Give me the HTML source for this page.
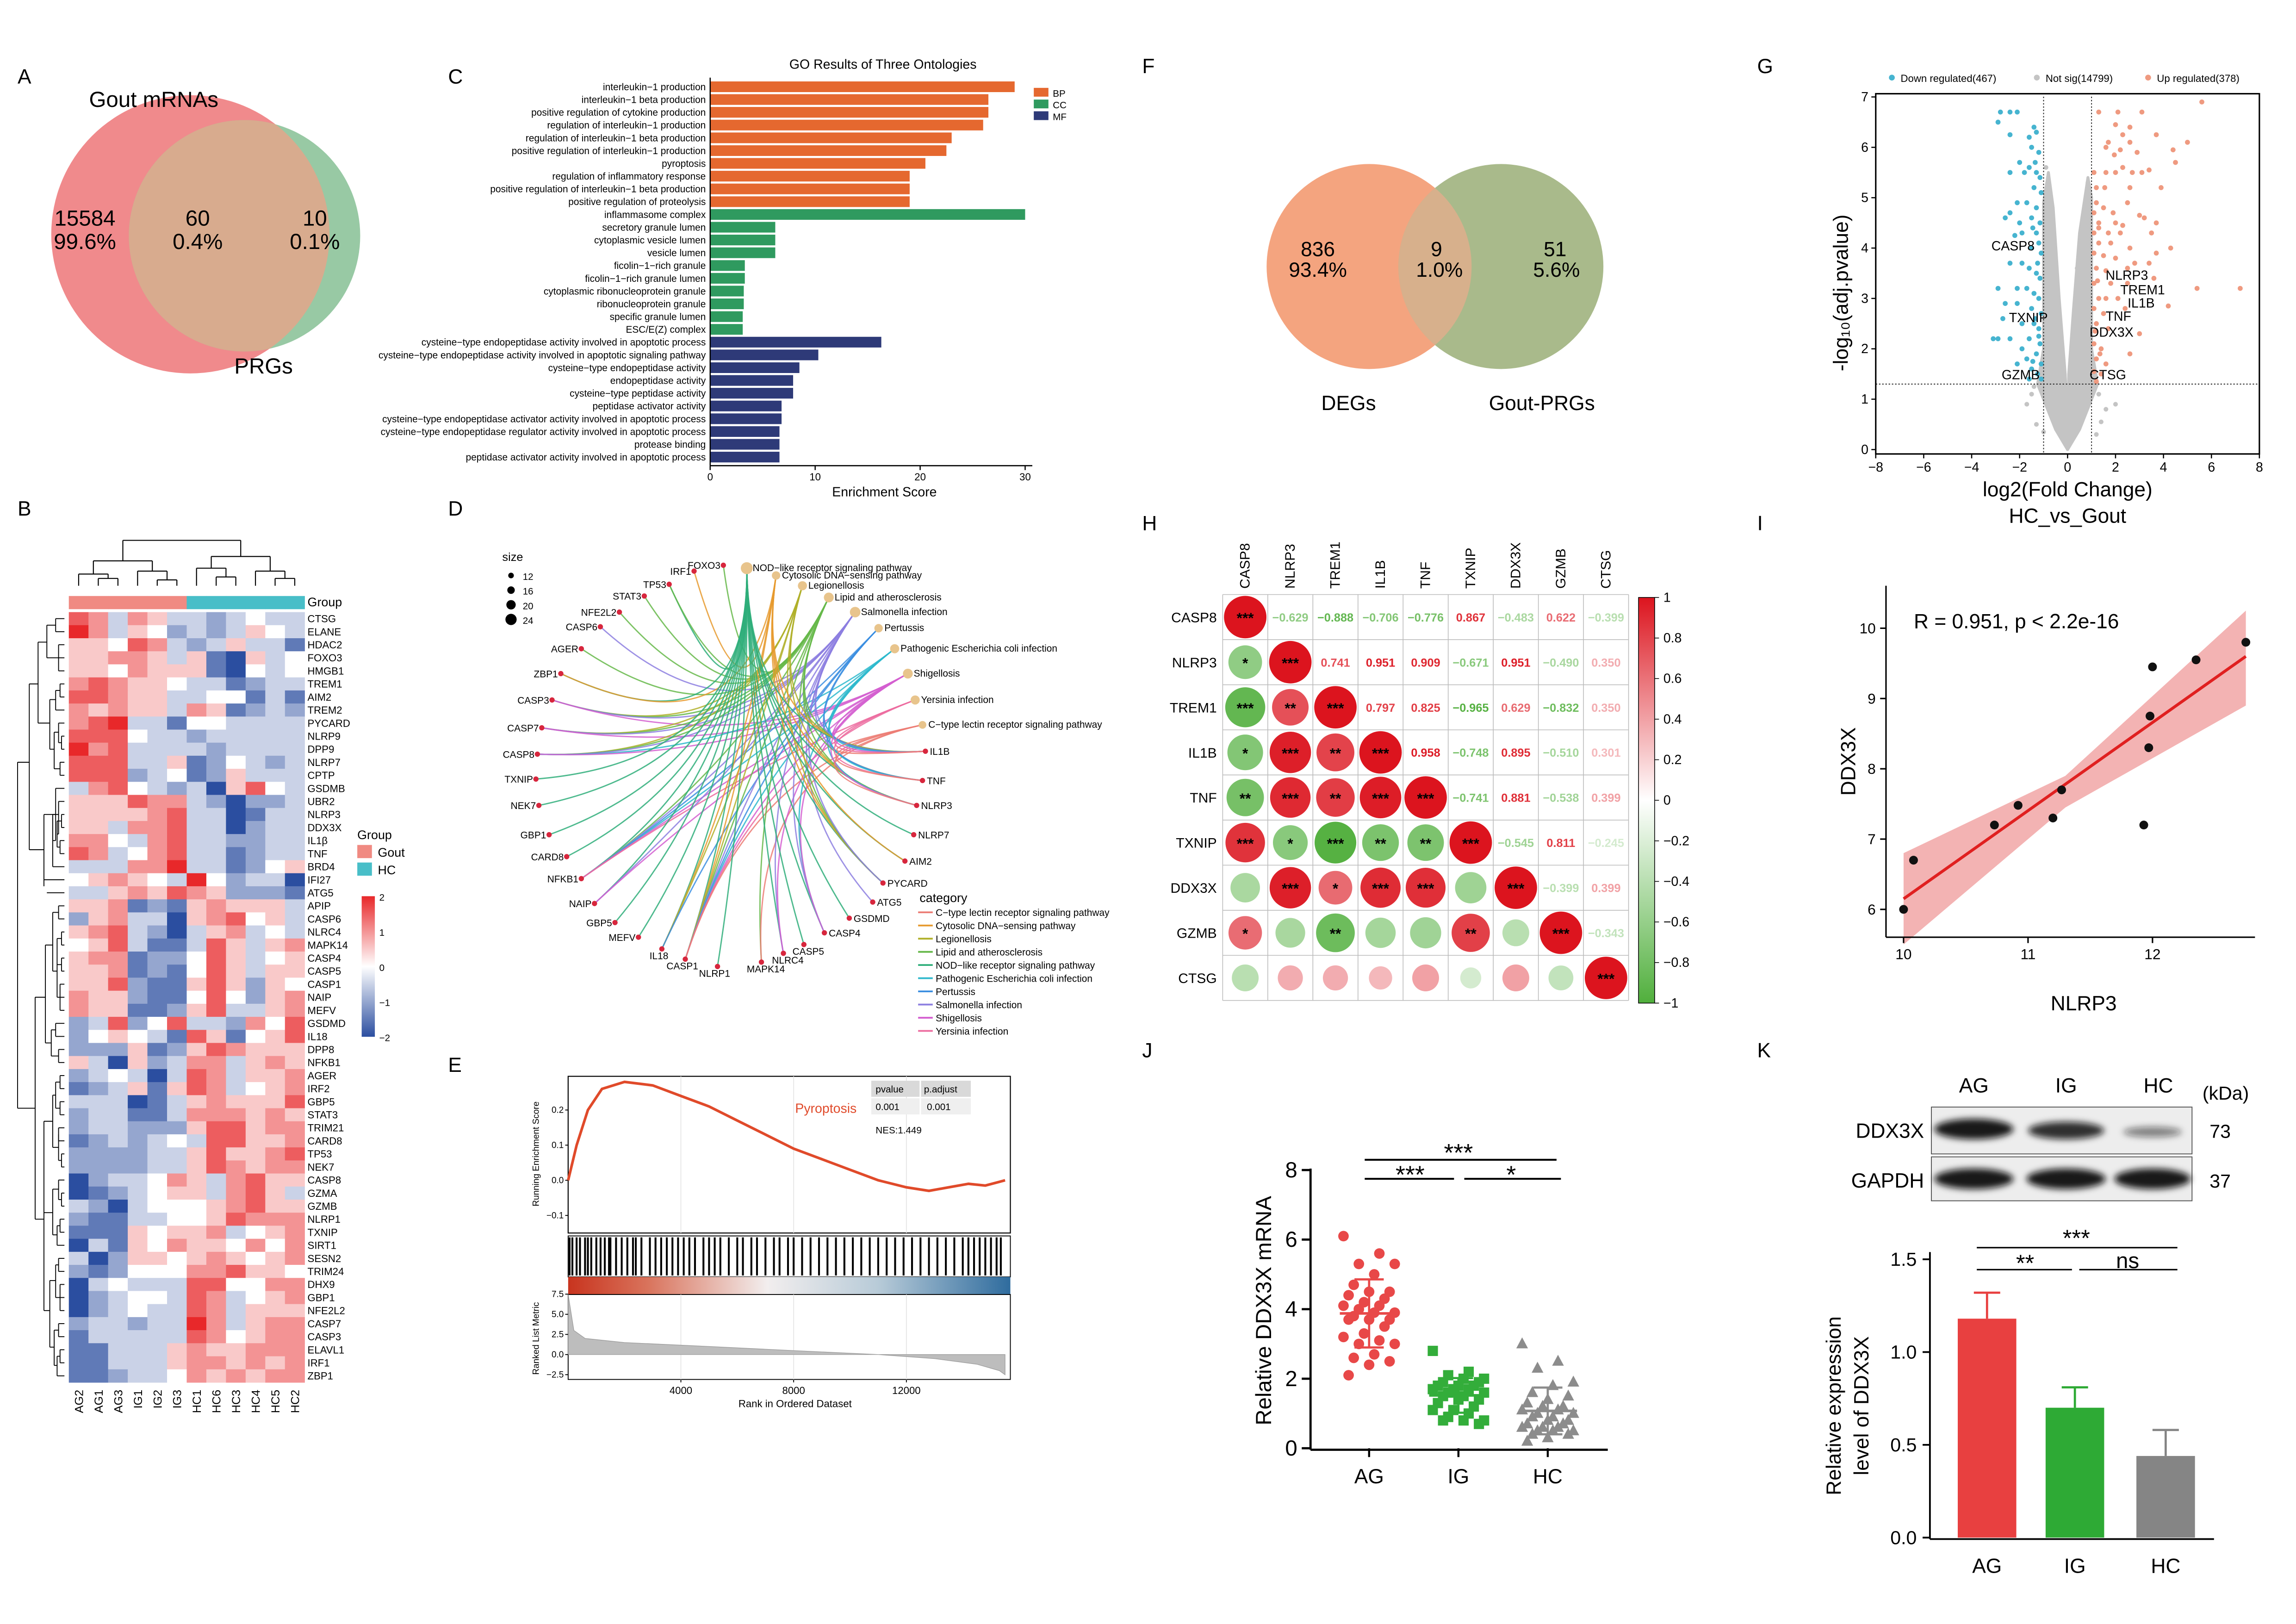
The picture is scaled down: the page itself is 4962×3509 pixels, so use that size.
<!DOCTYPE html>
<html><head><meta charset="utf-8">
<style>
html,body{margin:0;padding:0;background:#fff;}
svg{display:block;font-family:"Liberation Sans",Arial,sans-serif;}
</style></head>
<body>
<svg id="fig" xmlns="http://www.w3.org/2000/svg" width="4962" height="3509" viewBox="0 0 1568 1109" preserveAspectRatio="none"></svg>
<script>
// ===== DATA =====
const hmGenes=["CTSG","ELANE","HDAC2","FOXO3","HMGB1","TREM1","AIM2","TREM2","PYCARD","NLRP9","DPP9","NLRP7","CPTP","GSDMB","UBR2","NLRP3","DDX3X","IL1β","TNF","BRD4","IFI27","ATG5","APIP","CASP6","NLRC4","MAPK14","CASP4","CASP5","CASP1","NAIP","MEFV","GSDMD","IL18","DPP8","NFKB1","AGER","IRF2","GBP5","STAT3","TRIM21","CARD8","TP53","NEK7","CASP8","GZMA","GZMB","NLRP1","TXNIP","SIRT1","SESN2","TRIM24","DHX9","GBP1","NFE2L2","CASP7","CASP3","ELAVL1","IRF1","ZBP1"];
const hmSamples=["AG2","AG1","AG3","IG1","IG2","IG3","HC1","HC6","HC3","HC4","HC5","HC2"];
const hmGroups=["Gout","Gout","Gout","Gout","Gout","Gout","HC","HC","HC","HC","HC","HC"];
const hmRows=["763653323433","863542323543","554763235331","556653510534","554655510434","676554331233","776553344131","656553651232","678331443333","777433233333","867333323333","777335124323","777234125333","367432305743","555766320223","555567330133","553667330233","664367332233","763467331233","333668331245","456543842330","335657652221","556121565553","256330567453","567320356343","457311375356","566122475345","556121475355","557211575254","655211474256","655112573356","237247332647","245431751457","222512576555","530523663565","234303763556","123515763456","333013565557","233113666565","233222577566","123234377556","222233575567","222233576566","023346536755","012345536753","320344456755","211334457666","111545563456","031546554646","302554565456","212444667554","034333774466","023443763456","023433763555","233233863566","133333764566","113335655666","113335665656","112334656566"];
const goTerms=["interleukin−1 production","interleukin−1 beta production","positive regulation of cytokine production","regulation of interleukin−1 production","regulation of interleukin−1 beta production","positive regulation of interleukin−1 production","pyroptosis","regulation of inflammatory response","positive regulation of interleukin−1 beta production","positive regulation of proteolysis","inflammasome complex","secretory granule lumen","cytoplasmic vesicle lumen","vesicle lumen","ficolin−1−rich granule","ficolin−1−rich granule lumen","cytoplasmic ribonucleoprotein granule","ribonucleoprotein granule","specific granule lumen","ESC/E(Z) complex","cysteine−type endopeptidase activity involved in apoptotic process","cysteine−type endopeptidase activity involved in apoptotic signaling pathway","cysteine−type endopeptidase activity","endopeptidase activity","cysteine−type peptidase activity","peptidase activator activity","cysteine−type endopeptidase activator activity involved in apoptotic process","cysteine−type endopeptidase regulator activity involved in apoptotic process","protease binding","peptidase activator activity involved in apoptotic process"];
const goScores=[29,26.5,26.5,26,23,22.5,20.5,19,19,19,30,6.2,6.2,6.2,3.3,3.3,3.2,3.2,3.1,3.1,16.3,10.3,8.5,7.9,7.9,6.8,6.8,6.6,6.6,6.6];
const goOnto=["BP","BP","BP","BP","BP","BP","BP","BP","BP","BP","CC","CC","CC","CC","CC","CC","CC","CC","CC","CC","MF","MF","MF","MF","MF","MF","MF","MF","MF","MF"];
const netGenes=["FOXO3","IRF1","TP53","STAT3","NFE2L2","CASP6","AGER","ZBP1","CASP3","CASP7","CASP8","TXNIP","NEK7","GBP1","CARD8","NFKB1","NAIP","GBP5","MEFV","IL18","CASP1","NLRP1","MAPK14","NLRC4","CASP5","CASP4","GSDMD","ATG5","PYCARD","AIM2","NLRP7","NLRP3","TNF","IL1B"];
const netPaths=["NOD−like receptor signaling pathway","Cytosolic DNA−sensing pathway","Legionellosis","Lipid and atherosclerosis","Salmonella infection","Pertussis","Pathogenic Escherichia coli infection","Shigellosis","Yersinia infection","C−type lectin receptor signaling pathway"];
const netPathSize=[24,14,16,18,20,14,16,18,16,12];
const netLinks=["3","1","03","3","3","4","3","01","2347","2347","23467","0","0","0","0","0345678","047","0","0","0125","0123456789","0","39","047","0","0467","0","4","01234","01","0","0123679","345689","0123456789"];
const esRank=[0,300,700,1200,2000,3000,4000,5000,6000,7000,8000,9000,10000,11000,12000,12800,13500,14200,14800,15500];
const esVal=[0,0.1,0.2,0.26,0.28,0.27,0.24,0.21,0.17,0.13,0.09,0.06,0.03,0.0,-0.02,-0.03,-0.02,-0.01,-0.015,0.0];
const hitRanks=[50,150,300,420,600,700,820,1000,1150,1300,1450,1500,1700,1900,2100,2300,2400,2600,2900,3100,3300,3500,3700,3900,4100,4300,4500,4800,5000,5200,5400,5700,6000,6200,6500,6700,7000,7300,7500,7800,8000,8300,8600,8900,9200,9500,9800,10100,10400,10700,11000,11300,11600,11900,12200,12500,12800,13100,13400,13700,14000,14200,14400,14600,14800,15000,15200,15350];
const metricRank=[0,200,600,2000,5000,8000,11000,13000,14500,15300,15500];
const metricVal=[7.5,3,2,1.5,1.0,0.5,0,-0.5,-1.2,-2.0,-2.5];
// G volcano
const volDown=[[-2.8,6.7],[-2.4,6.7],[-2.1,6.7],[-2.9,6.5],[-1.4,6.4],[-1.3,6.3],[-2.4,6.25],[-1.6,6.2],[-1.5,6.0],[-1.2,5.9],[-2.0,5.7],[-1.6,5.6],[-2.4,5.5],[-1.3,5.5],[-1.15,5.4],[-1.8,5.5],[-1.4,5.2],[-1.1,5.1],[-2.1,4.9],[-1.7,4.9],[-1.3,4.8],[-2.6,4.6],[-2.4,4.7],[-2.0,4.5],[-1.5,4.6],[-1.15,4.5],[-1.3,4.3],[-2.2,4.25],[-1.9,4.3],[-1.2,4.1],[-1.5,4.0],[-1.1,3.9],[-2.4,3.7],[-1.9,3.7],[-1.6,3.6],[-1.3,3.5],[-1.15,3.4],[-2.9,3.2],[-2.1,3.2],[-1.7,3.2],[-1.4,3.1],[-1.2,3.0],[-2.1,2.9],[-2.6,2.9],[-1.5,2.8],[-1.1,2.7],[-2.7,2.6],[-1.9,2.5],[-1.4,2.5],[-1.2,2.4],[-3.1,2.2],[-2.9,2.2],[-2.4,2.2],[-1.6,2.2],[-1.15,2.1],[-1.9,2.0],[-1.3,1.9],[-1.7,1.8],[-1.1,1.7],[-2.1,1.7],[-1.5,1.6],[-1.25,1.5],[-1.6,1.4],[-1.1,1.4],[-1.35,5.7],[-1.45,4.4],[-1.25,3.7],[-1.35,2.6],[-1.2,2.25],[-1.45,1.75]];
const volUp=[[5.6,6.9],[1.3,6.7],[2.1,6.7],[3.1,6.7],[2.0,6.45],[2.6,6.4],[2.3,6.25],[3.7,6.25],[5.0,6.1],[1.7,6.1],[1.6,6.0],[2.6,6.1],[2.2,5.95],[2.9,5.9],[4.4,5.95],[4.5,5.7],[1.95,5.85],[1.1,5.5],[1.6,5.5],[2.0,5.5],[2.3,5.6],[2.7,5.5],[3.1,5.5],[3.4,5.55],[1.2,5.2],[1.55,5.2],[2.6,5.2],[3.9,5.2],[1.2,4.9],[1.5,4.8],[2.5,4.9],[1.1,4.7],[1.9,4.7],[3.0,4.65],[3.2,4.6],[1.3,4.5],[2.0,4.5],[2.3,4.45],[3.7,4.5],[1.1,4.3],[1.7,4.3],[2.2,4.3],[3.5,4.3],[1.3,4.1],[1.8,4.1],[2.6,4.0],[4.3,4.0],[1.1,3.9],[1.5,3.85],[2.0,3.8],[3.7,3.9],[2.8,3.7],[1.2,3.6],[1.6,3.55],[2.5,3.6],[3.4,3.7],[1.1,3.3],[1.8,3.3],[2.5,3.3],[3.6,3.4],[5.4,3.2],[7.2,3.2],[1.3,3.0],[1.6,3.0],[2.1,3.0],[4.2,2.85],[1.1,2.8],[1.5,2.7],[2.4,2.8],[1.2,2.5],[1.7,2.4],[3.0,2.3],[1.1,2.1],[1.4,2.0],[2.6,1.9],[1.2,1.8],[1.6,1.7],[1.1,1.55],[1.4,1.5],[1.2,1.35],[1.3,4.4],[1.25,3.35],[1.15,2.35],[1.35,1.9]];
const volGreyLeft=[[0,0],[-0.5,0.4],[-1.25,1.3],[-1.0,2.0],[-1.0,4.9],[-0.8,5.5],[-0.6,4.8],[-0.35,3.0],[-0.1,1.5],[0,0.4]];
const volGreyRight=[[0,0],[0.5,0.4],[1.25,1.3],[1.0,2.0],[1.0,5.0],[0.85,5.4],[0.5,4.3],[0.25,2.8],[0.05,1.5],[0,0.4]];
const volGreyPts=[[-1.7,0.9],[-1.5,1.1],[-1.3,0.5],[-1.0,0.35],[-1.4,1.25],[1.3,1.1],[1.6,0.8],[1.4,0.55],[2.0,0.9],[1.2,0.3],[-0.9,5.6],[0.85,5.3],[0.5,4.0],[0.4,3.6]];
const corGenes=["CASP8","NLRP3","TREM1","IL1B","TNF","TXNIP","DDX3X","GZMB","CTSG"];
const corUpper=[[-0.629,-0.888,-0.706,-0.776,0.867,-0.483,0.622,-0.399],[0.741,0.951,0.909,-0.671,0.951,-0.490,0.350],[0.797,0.825,-0.965,0.629,-0.832,0.350],[0.958,-0.748,0.895,-0.510,0.301],[-0.741,0.881,-0.538,0.399],[-0.545,0.811,-0.245],[-0.399,0.399],[-0.343]];
const sNLRP3=[10,10.08,10.73,10.92,11.2,11.27,11.93,11.97,11.98,12.0,12.35,12.75];
const sDDX3X=[6.0,6.7,7.2,7.48,7.3,7.7,7.2,8.3,8.75,9.45,9.55,9.8];
const fitX=[10,12.75];const fitY=[6.15,9.6];
const bandX=[10,11.3,12.75];const bandLo=[5.5,7.45,8.9];const bandHi=[6.8,7.9,10.25];
const jGroups=["AG","IG","HC"];
const jAG=[6.1,5.6,5.3,5.3,5.0,4.7,4.5,4.5,4.4,4.3,4.2,4.1,4.1,4.0,3.9,3.9,3.8,3.7,3.7,3.7,3.5,3.3,3.2,3.1,3.0,3.0,2.7,2.6,2.5,2.4,2.1];
const jIG=[2.8,2.2,2.1,2.0,2.0,1.9,1.9,1.8,1.8,1.8,1.7,1.7,1.7,1.6,1.6,1.5,1.5,1.4,1.4,1.3,1.2,1.1,1.1,1.0,0.9,0.8,0.8,0.8,0.7];
const jHC=[3.0,2.5,2.3,1.9,1.8,1.6,1.5,1.4,1.3,1.2,1.2,1.1,1.1,1.0,1.0,0.9,0.9,0.8,0.8,0.7,0.7,0.6,0.6,0.6,0.5,0.5,0.5,0.4,0.4,0.3,0.2];
const kGroups=["AG","IG","HC"];
const kMeans=[1.18,0.70,0.44];
const kErr=[0.14,0.11,0.14];

// ===== helpers =====
const NS='http://www.w3.org/2000/svg';
const svg=document.getElementById('fig');
function mk(tag,attrs,parent,text){const e=document.createElementNS(NS,tag);for(const k in attrs)e.setAttribute(k,attrs[k]);if(text!==undefined)e.textContent=text;(parent||svg).appendChild(e);return e;}
function grp(name,parent){const g=mk('g',{},parent);return g;}
function T(p,x,y,s,size,anchor,extra){const a={x:x,y:y,'font-size':size,'text-anchor':anchor||'start'};if(extra)for(const k in extra)a[k]=extra[k];return mk('text',a,p,s);}
function L(p,x1,y1,x2,y2,c,w,extra){const a={x1:x1,y1:y1,x2:x2,y2:y2,stroke:c||'#000','stroke-width':w||0.8};if(extra)for(const k in extra)a[k]=extra[k];return mk('line',a,p);}
function lerp(a,b,t){return a+(b-a)*t;}
const defs=mk('defs',{});
const blur=mk('filter',{id:'bandblur',x:'-30%',y:'-60%',width:'160%',height:'220%'},defs);mk('feGaussianBlur',{stdDeviation:'2.2'},blur);

const letters=[["A",12,57],["B",12,352],["C",306,57],["D",306,352],["E",306,732],["F",780,50],["G",1200,50],["H",780,362],["I",1200,362],["J",780,722],["K",1200,722]];
for(const l of letters){const t=T(svg,l[1],l[2],l[0],14);}

// ===== Venn helper =====
function venn(name,c1,c2,colL,colR,colO,id){const g=grp(name);
const cp=mk('clipPath',{id:id},defs);mk('circle',{cx:c1[0],cy:c1[1],r:c1[2]},cp);
const a=mk('circle',{cx:c1[0],cy:c1[1],r:c1[2],fill:colL},g);
const b=mk('circle',{cx:c2[0],cy:c2[1],r:c2[2],fill:colR},g);
const o=mk('circle',{cx:c2[0],cy:c2[1],r:c2[2],fill:colO,'clip-path':`url(#${id})`},g);
return g;}
{const g=venn('venn-a',[130,160,95],[167,161,79],'#f08a8c','#98c9a4','#d8ab8e','clipA');
const s=[["Gout mRNAs",105,73],["15584",58,154],["99.6%",58,170],["60",135,154],["0.4%",135,170],["10",215,154],["0.1%",215,170],["PRGs",180,255]];
for(const a of s){const t=T(g,a[1],a[2],a[0],15,'middle');}}
{const g=venn('venn-f',[935,182,70],[1025,182,70],'#f4a47f','#a9ba8b','#d7b08c','clipF');
const s=[["836",900,175],["93.4%",900,189],["9",981,175],["1.0%",983,189],["51",1062,175],["5.6%",1063,189],["DEGs",921,280],["Gout-PRGs",1053,280]];
for(const a of s){const t=T(g,a[1],a[2],a[0],14,'middle');}}

// ===== B heatmap =====
{const g=grp('heatmap-b');
const x0=47,cw=(208-47)/12,y0=418,ch=(944-418)/59;
function col(v){const t=(v-4)/4;let r,gg,b;if(t<0){const u=-t;r=lerp(255,43,u);gg=lerp(255,78,u);b=lerp(255,160,u);}else{r=lerp(255,232,t);gg=lerp(255,40,t);b=lerp(255,42,t);}return `rgb(${r|0},${gg|0},${b|0})`;}
hmRows.forEach((row,i)=>{for(let j=0;j<12;j++){const v=+row[j];const r=mk('rect',{x:x0+j*cw,y:y0+i*ch,width:cw+0.2,height:ch+0.2,fill:col(v)},g);}
const t=T(g,210,y0+i*ch+ch*0.78,hmGenes[i],7);});
hmSamples.forEach((s,j)=>{const r=mk('rect',{x:x0+j*cw,y:407,width:cw+0.2,height:9,fill:hmGroups[j]==='Gout'?'#f08a82':'#48bec8'},g);
const cx=x0+j*cw+cw/2;const t=T(g,cx+3,949,s,8,'end',{transform:`rotate(-90 ${cx+3} 949)`});});
const gt=T(g,210,414,"Group",8.5);
const td=grp('column-dendrogram',g);
const cx=j=>x0+j*cw+cw/2;
const segs=[[cx(0),400,cx(0),392],[cx(1),400,cx(1),395],[cx(2),400,cx(2),395],[cx(1),395,cx(2),395],[cx(1.5),395,cx(1.5),392],[cx(0),392,cx(1.5),392],[cx(0.75),392,cx(0.75),383],[cx(3),400,cx(3),390],[cx(4),400,cx(4),396],[cx(5),400,cx(5),396],[cx(4),396,cx(5),396],[cx(4.5),396,cx(4.5),390],[cx(3),390,cx(4.5),390],[cx(3.75),390,cx(3.75),383],[cx(0.75),383,cx(3.75),383],[cx(2.25),383,cx(2.25),369],
[cx(6),400,cx(6),388],[cx(7),400,cx(7),394],[cx(8),400,cx(8),394],[cx(7),394,cx(8),394],[cx(7.5),394,cx(7.5),388],[cx(6),388,cx(7.5),388],[cx(6.75),388,cx(6.75),380],[cx(9),400,cx(9),390],[cx(10),400,cx(10),395],[cx(11),400,cx(11),395],[cx(10),395,cx(11),395],[cx(10.5),395,cx(10.5),390],[cx(9),390,cx(10.5),390],[cx(9.75),390,cx(9.75),380],[cx(6.75),380,cx(9.75),380],[cx(8.25),380,cx(8.25),369],[cx(2.25),369,cx(8.25),369]];
segs.forEach(s=>L(td,s[0],s[1],s[2],s[3],'#000',0.7));
const ld=grp('row-dendrogram',g);
const ry=i=>y0+i*ch+ch/2;
const lsegs=[[44,ry(0),38,ry(0)],[44,ry(1),38,ry(1)],[38,ry(0),38,ry(1)],[38,ry(0.5),32,ry(0.5)],[44,ry(2),40,ry(2)],[44,ry(3),40,ry(3)],[44,ry(4),40,ry(4)],[40,ry(2),40,ry(4)],[40,ry(3),34,ry(3)],[32,ry(0.5),32,ry(3)],[34,ry(3),32,ry(3)],[32,ry(1.8),26,ry(1.8)],
[44,ry(5),41,ry(5)],[44,ry(6),41,ry(6)],[41,ry(5),41,ry(6)],[44,ry(7),38,ry(7)],[41,ry(5.5),38,ry(5.5)],[38,ry(5.5),38,ry(7)],[44,ry(8),40,ry(8)],[44,ry(9),42,ry(9)],[44,ry(10),42,ry(10)],[42,ry(9),42,ry(10)],[42,ry(9.5),40,ry(9.5)],[40,ry(8),40,ry(9.5)],[44,ry(11),41,ry(11)],[44,ry(12),41,ry(12)],[41,ry(11),41,ry(12)],[41,ry(11.5),37,ry(11.5)],[40,ry(8.7),37,ry(8.7)],[37,ry(8.7),37,ry(11.5)],[38,ry(6.2),34,ry(6.2)],[37,ry(10),34,ry(10)],[34,ry(6.2),34,ry(10)],[34,ry(8),26,ry(8)],[26,ry(1.8),26,ry(8)],[26,ry(5),20,ry(5)],
[44,ry(13),38,ry(13)],[44,ry(14),40,ry(14)],[44,ry(15),42,ry(15)],[44,ry(16),42,ry(16)],[42,ry(15),42,ry(16)],[44,ry(17),41,ry(17)],[44,ry(18),41,ry(18)],[41,ry(17),41,ry(18)],[42,ry(15.5),39,ry(15.5)],[41,ry(17.5),39,ry(17.5)],[39,ry(15.5),39,ry(17.5)],[40,ry(14),40,ry(16.5)],[39,ry(16.5),40,ry(16.5)],[40,ry(15),36,ry(15)],[44,ry(19),36,ry(19)],[36,ry(15),36,ry(19)],[38,ry(13),38,ry(17)],[36,ry(17),38,ry(17)],[38,ry(15),30,ry(15)],[44,ry(20),30,ry(20)],[44,ry(21),32,ry(21)],[30,ry(15),30,ry(20.5)],[30,ry(17.7),20,ry(17.7)],[20,ry(5),20,ry(17.7)],[20,ry(11),12,ry(11)],
[44,ry(22),40,ry(22)],[44,ry(23),40,ry(23)],[40,ry(22),40,ry(23)],[44,ry(24),42,ry(24)],[44,ry(25),42,ry(25)],[42,ry(24),42,ry(25)],[44,ry(26),42,ry(26)],[44,ry(27),42,ry(27)],[42,ry(26),42,ry(27)],[44,ry(28),41,ry(28)],[44,ry(29),41,ry(29)],[41,ry(28),41,ry(29)],[44,ry(30),41,ry(30)],[41,ry(29),41,ry(30)],[42,ry(24.5),39,ry(24.5)],[42,ry(26.5),39,ry(26.5)],[39,ry(24.5),39,ry(29)],[41,ry(29),39,ry(29)],[40,ry(22.5),36,ry(22.5)],[39,ry(27),36,ry(27)],[36,ry(22.5),36,ry(27)],[44,ry(31),38,ry(31)],[44,ry(32),38,ry(32)],[38,ry(31),38,ry(32)],[44,ry(33),40,ry(33)],[44,ry(34),40,ry(34)],[40,ry(33),40,ry(34)],[40,ry(33.5),35,ry(33.5)],[38,ry(31.5),35,ry(31.5)],[35,ry(31.5),35,ry(33.5)],[36,ry(25),31,ry(25)],[35,ry(32.5),31,ry(32.5)],[31,ry(25),31,ry(32.5)],[31,ry(29),24,ry(29)],
[44,ry(35),41,ry(35)],[44,ry(36),41,ry(36)],[41,ry(35),41,ry(36)],[44,ry(37),41,ry(37)],[44,ry(38),41,ry(38)],[41,ry(37),41,ry(38)],[41,ry(35.5),38,ry(35.5)],[41,ry(37.5),38,ry(37.5)],[38,ry(35.5),38,ry(37.5)],[44,ry(39),40,ry(39)],[44,ry(40),40,ry(40)],[40,ry(39),40,ry(40)],[44,ry(41),42,ry(41)],[44,ry(42),42,ry(42)],[42,ry(41),42,ry(42)],[42,ry(41.5),40,ry(41.5)],[40,ry(39.5),40,ry(41.5)],[40,ry(40.5),36,ry(40.5)],[38,ry(36.5),36,ry(36.5)],[36,ry(36.5),36,ry(40.5)],[36,ry(38.5),30,ry(38.5)],
[44,ry(43),40,ry(43)],[44,ry(44),42,ry(44)],[44,ry(45),42,ry(45)],[42,ry(44),42,ry(45)],[42,ry(44.5),40,ry(44.5)],[40,ry(43),40,ry(44.5)],[44,ry(46),41,ry(46)],[44,ry(47),41,ry(47)],[41,ry(46),41,ry(47)],[44,ry(48),39,ry(48)],[41,ry(46.5),39,ry(46.5)],[39,ry(46.5),39,ry(48)],[40,ry(43.7),36,ry(43.7)],[39,ry(47.2),36,ry(47.2)],[36,ry(43.7),36,ry(47.2)],[44,ry(49),40,ry(49)],[44,ry(50),40,ry(50)],[40,ry(49),40,ry(50)],[44,ry(51),41,ry(51)],[44,ry(52),41,ry(52)],[41,ry(51),41,ry(52)],[44,ry(53),41,ry(53)],[41,ry(52),41,ry(53)],[41,ry(52),38,ry(52)],[40,ry(49.5),38,ry(49.5)],[38,ry(49.5),38,ry(52)],[44,ry(54),40,ry(54)],[44,ry(55),40,ry(55)],[40,ry(54),40,ry(55)],[44,ry(56),41,ry(56)],[44,ry(57),41,ry(57)],[41,ry(56),41,ry(57)],[44,ry(58),39,ry(58)],[41,ry(56.5),39,ry(56.5)],[39,ry(56.5),39,ry(58)],[40,ry(54.5),37,ry(54.5)],[39,ry(57.2),37,ry(57.2)],[37,ry(54.5),37,ry(57.2)],[38,ry(50.7),34,ry(50.7)],[37,ry(55.8),34,ry(55.8)],[34,ry(50.7),34,ry(55.8)],[36,ry(45.5),30,ry(45.5)],[34,ry(53),30,ry(53)],[30,ry(38.5),30,ry(53)],[30,ry(46),24,ry(46)],[24,ry(29),24,ry(46)],[24,ry(37.5),12,ry(37.5)],[12,ry(11),12,ry(37.5)]];
lsegs.forEach(s=>L(ld,s[0],s[1],s[2],s[3],'#000',0.6));
const lg=grp('heatmap-legend',g);
T(lg,244,573,"Group",8.5);
mk('rect',{x:244,y:577,width:10,height:9,fill:'#f08a82'},lg);T(lg,258,585,"Gout",8.5);
mk('rect',{x:244,y:589,width:10,height:9,fill:'#48bec8'},lg);T(lg,258,597,"HC",8.5);
const gr=mk('linearGradient',{id:'hmgrad',x1:0,y1:0,x2:0,y2:1},defs);
mk('stop',{offset:'0','stop-color':'#e8282a'},gr);mk('stop',{offset:'0.5','stop-color':'#ffffff'},gr);mk('stop',{offset:'1','stop-color':'#2b4ea0'},gr);
mk('rect',{x:247,y:612,width:9,height:96,fill:'url(#hmgrad)'},lg);
["2","1","0","−1","−2"].forEach((s,i)=>T(lg,259,615+i*24,s,6.5));
}

// ===== C GO bars =====
{const g=grp('go-bar-chart');
const xs=v=>485+v*7.17;const rowY=i=>55+i*8.72;
const cols={BP:'#e5682f',CC:'#2f9a5f',MF:'#2e3a78'};
T(g,603,47,"GO Results of Three Ontologies",9,'middle');
goScores.forEach((v,i)=>{const r=mk('rect',{x:485,y:rowY(i)+0.6,width:xs(v)-485,height:7.3,fill:cols[goOnto[i]]},g);
const t=T(g,482,rowY(i)+6.6,goTerms[i],6.6,'end');});
L(g,485,53,485,318,'#000',0.8);L(g,485,318,705,318,'#000',0.8);
[0,10,20,30].forEach(v=>{L(g,xs(v),318,xs(v),321,'#000',0.8);T(g,xs(v),328,String(v),7,'middle');});
T(g,604,339,"Enrichment Score",9,'middle');
["BP","CC","MF"].forEach((k,i)=>{mk('rect',{x:706,y:60+i*8,width:10,height:6,fill:cols[k]},g);T(g,719,66+i*8,k,6.5);});
}

// ===== D network =====
{const g=grp('gene-pathway-network');
const gpos=[[494,386],[474,390],[457,399],[440,407],[423,418],[410,428],[397,443],[383,460],[377,478],[370,497],[367,515],[366,532],[368,550],[375,570],[387,585],[397,600],[406,617],[420,630],[436,640],[452,648],[468,655],[490,660],[520,657],[535,651],[549,645],[563,637],[580,627],[596,616],[603,603],[618,588],[624,570],[626,550],[630,533],[632,513]];
const ppos=[[510,388],[530,393],[548,400],[566,408],[584,418],[600,429],[611,443],[620,460],[625,478],[630,495]];
const pcol=['#2fae7a','#e69a2e','#b0b02a','#66b84a','#8d7fe0','#3b8ee0','#2db8cc','#d45fd0','#ec6b9f','#ec7c74'];
const lg=grp('network-links',g);
netLinks.forEach((s,i)=>{for(const ch of s){const p=+ch;const a=gpos[i],b=ppos[p];const path=mk('path',{d:`M${a[0]},${a[1]} Q512,520 ${b[0]},${b[1]}`,fill:'none',stroke:pcol[p],'stroke-width':0.9,'stroke-opacity':0.85},lg);}});
netGenes.forEach((n,i)=>{const a=gpos[i];const c=mk('circle',{cx:a[0],cy:a[1],r:1.8,fill:'#d7263d'},g);
const left=a[0]<505;const t=T(g,a[0]+(left?-2:3),a[1]+(a[1]>640?7:2.5),n,6.6,a[1]>640?'middle':(left?'end':'start'));});
netPaths.forEach((n,i)=>{const a=ppos[i];const c=mk('circle',{cx:a[0],cy:a[1],r:1.2+netPathSize[i]*0.12,fill:'#e8c48c'},g);
const t=T(g,a[0]+4,a[1]+2,n,6.6);});
const sl=grp('size-legend',g);T(sl,343,383,"size",8);
[12,16,20,24].forEach((s,i)=>{mk('circle',{cx:349,cy:393+i*10,r:s*0.16,fill:'#000'},sl);T(sl,357,396+i*10,String(s),6.5);});
const cl=grp('category-legend',g);T(cl,628,616,"category",8.5);
const order=[9,1,2,3,0,6,5,4,7,8];
order.forEach((p,i)=>{L(cl,627,623+i*9,637,623+i*9,pcol[p],1.2);T(cl,639,625.5+i*9,netPaths[p],6.6);});
}

// ===== E GSEA =====
{const g=grp('gsea-plot');
const xr=r=>388+r*0.01925;const ye=v=>806-v*240;
mk('rect',{x:388,y:735,width:302,height:107,fill:'none',stroke:'#000','stroke-width':0.7},g);
[4000,8000,12000].forEach(r=>{L(g,xr(r),735,xr(r),842,'#e6e6e6',0.6);});
[0.2,0.1,0.0,-0.1].forEach(v=>{L(g,386,ye(v),388,ye(v),'#000',0.6);T(g,385,ye(v)+2,v===0?'0.0':(v<0?'−0.1':String(v)),6,'end');});
T(g,368,788,"Running Enrichment Score",6,'middle',{transform:'rotate(-90 368 788)'});
let d='';esRank.forEach((r,i)=>{d+=(i?'L':'M')+xr(r).toFixed(1)+','+ye(esVal[i]).toFixed(1);});
const p=mk('path',{d:d,fill:'none',stroke:'#e04a2a','stroke-width':1.8},g);
const tb=grp('gsea-stats-table',g);
mk('rect',{x:595,y:738,width:33,height:11,fill:'#d9d9d9'},tb);mk('rect',{x:629,y:738,width:34,height:11,fill:'#d9d9d9'},tb);
mk('rect',{x:595,y:750,width:33,height:11,fill:'#efefef'},tb);mk('rect',{x:629,y:750,width:34,height:11,fill:'#efefef'},tb);
T(tb,598,746,"pvalue",6.5);T(tb,631,746,"p.adjust",6.5);T(tb,598,758,"0.001",6.5);T(tb,633,758,"0.001",6.5);
T(tb,598,774,"NES:1.449",6.5);T(g,543,760,"Pyroptosis",9,'start',{fill:'#e04a2a'});
mk('rect',{x:388,y:844,width:302,height:28,fill:'#fff',stroke:'#000','stroke-width':0.6},g);
hitRanks.forEach(r=>{const l=L(g,xr(r),845,xr(r),871,'#000',1.3);});
const gr=mk('linearGradient',{id:'rankgrad',x1:0,y1:0,x2:1,y2:0},defs);
mk('stop',{offset:'0','stop-color':'#c8341e'},gr);mk('stop',{offset:'0.18','stop-color':'#d9735c'},gr);mk('stop',{offset:'0.45','stop-color':'#f2eeee'},gr);mk('stop',{offset:'0.7','stop-color':'#b8cbd8'},gr);mk('stop',{offset:'1','stop-color':'#2f6c9e'},gr);
mk('rect',{x:388,y:872,width:302,height:12,fill:'url(#rankgrad)'},g);
const ym=m=>925-m*5.5;
mk('rect',{x:388,y:884,width:302,height:58,fill:'none',stroke:'#000','stroke-width':0.6},g);
[4000,8000,12000].forEach(r=>{L(g,xr(r),884,xr(r),942,'#e6e6e6',0.6);});
let md='M'+xr(0)+','+ym(0);metricRank.forEach((r,i)=>{md+='L'+xr(r).toFixed(1)+','+ym(metricVal[i]).toFixed(1);});md+='L'+xr(15500)+','+ym(0)+'Z';
const mp=mk('path',{d:md,fill:'#bdbdbd',stroke:'#9a9a9a','stroke-width':0.4},g);
[7.5,5.0,2.5,0.0,-2.5].forEach(v=>{L(g,386,ym(v),388,ym(v),'#000',0.6);T(g,385,ym(v)+2,v<0?'−2.5':v.toFixed(1),6,'end');});
T(g,368,914,"Ranked List Metric",6,'middle',{transform:'rotate(-90 368 914)'});
[4000,8000,12000].forEach(r=>{L(g,xr(r),942,xr(r),944,'#000',0.6);T(g,xr(r),952,String(r),7,'middle');});
T(g,543,961,"Rank in Ordered Dataset",7,'middle');
}

// ===== G volcano =====
{const g=grp('volcano-plot');
const xv=v=>1412+v*16.375;const yv=v=>307-v*34.4;
[volGreyLeft,volGreyRight].forEach(poly=>{const pg=mk('polygon',{points:poly.map(p=>xv(p[0])+','+yv(p[1])).join(' '),fill:'#c4c4c4',stroke:'#c4c4c4','stroke-width':2,'stroke-linejoin':'round'},g);});
volGreyPts.forEach(p=>{const c=mk('circle',{cx:xv(p[0]),cy:yv(p[1]),r:1.6,fill:'#c4c4c4'},g);});
volDown.forEach(p=>{const c=mk('circle',{cx:xv(p[0]),cy:yv(p[1]),r:1.7,fill:'#46b4d0'},g);});
volUp.forEach(p=>{const c=mk('circle',{cx:xv(p[0]),cy:yv(p[1]),r:1.7,fill:'#ef9a80'},g);});
L(g,xv(-1),66,xv(-1),310,'#222',0.6,{'stroke-dasharray':'1,1.2'});L(g,xv(1),66,xv(1),310,'#222',0.6,{'stroke-dasharray':'1,1.2'});
L(g,1281,yv(1.3),1543,yv(1.3),'#222',0.6,{'stroke-dasharray':'1,1.2'});
mk('rect',{x:1281,y:64,width:262,height:246,fill:'none',stroke:'#000','stroke-width':1},g);
for(let v=-8;v<=8;v+=2){L(g,xv(v),310,xv(v),313,'#000',0.8);T(g,xv(v),322,v<0?'−'+(-v):String(v),9,'middle');}
for(let v=0;v<=7;v++){L(g,1278,yv(v),1281,yv(v),'#000',0.8);T(g,1276,yv(v)+3,String(v),9,'end');}
T(g,1412,339,"log2(Fold Change)",14,'middle');T(g,1412,357,"HC_vs_Gout",14,'middle');
T(g,1262,200,"-log\u2081\u2080(adj.pvalue)",14,'middle',{transform:'rotate(-90 1262 200)'});
const lab=[["CASP8",1360,171],["TXNIP",1372,220],["GZMB",1367,259],["NLRP3",1438,191],["TREM1",1448,201],["IL1B",1453,210],["TNF",1438,219],["DDX3X",1427,230],["CTSG",1427,259]];
lab.forEach(a=>{const t=T(g,a[1],a[2],a[0],9);});
const lg=grp('volcano-legend',g);
mk('circle',{cx:1292,cy:53,r:2,fill:'#46b4d0'},lg);T(lg,1298,56,"Down regulated(467)",7);
mk('circle',{cx:1391,cy:53,r:2,fill:'#c4c4c4'},lg);T(lg,1397,56,"Not sig(14799)",7);
mk('circle',{cx:1467,cy:53,r:2,fill:'#ef9a80'},lg);T(lg,1473,56,"Up regulated(378)",7);
}

// ===== H correlation =====
{const g=grp('correlation-plot');
const x0=835,y0=406,cs=30.8;
function cc(r){const t=Math.abs(r);let R,G,B;if(r>=0){R=lerp(255,220,t);G=lerp(255,20,t);B=lerp(255,30,t);}else{R=lerp(255,80,t);G=lerp(255,175,t);B=lerp(255,60,t);}return `rgb(${R|0},${G|0},${B|0})`;}
function stars(r){const a=Math.abs(r);return a>=0.85?'***':a>=0.74?'**':a>=0.6?'*':'';}
function corr(i,j){if(i===j)return 1;const a=Math.min(i,j),b=Math.max(i,j);return corUpper[a][b-a-1];}
for(let i=0;i<=9;i++){L(g,x0,y0+i*cs,x0+9*cs,y0+i*cs,'#bbb',0.5);L(g,x0+i*cs,y0,x0+i*cs,y0+9*cs,'#bbb',0.5);}
for(let i=0;i<9;i++){for(let j=0;j<9;j++){const r=corr(i,j);const cx=x0+j*cs+cs/2,cy=y0+i*cs+cs/2;
if(j<=i){const c=mk('circle',{cx:cx,cy:cy,r:Math.sqrt(Math.abs(r))*14.5,fill:cc(r)},g);
const s=stars(r);if(s)T(g,cx,cy+4,s,10,'middle',{'font-weight':'bold'});}
else{const t=T(g,cx,cy+3,r.toFixed(3).replace('-','−'),8,'middle',{fill:cc(r),'font-weight':'bold'});}}}
corGenes.forEach((n,i)=>{T(g,x0-4,y0+i*cs+cs/2+3.5,n,9.5,'end');const cx=x0+i*cs+cs/2+3;T(g,cx,y0-4,n,9.5,'start',{transform:`rotate(-90 ${cx} ${y0-4})`});});
const gr=mk('linearGradient',{id:'corgrad',x1:0,y1:0,x2:0,y2:1},defs);
mk('stop',{offset:'0','stop-color':'#dc141e'},gr);mk('stop',{offset:'0.5','stop-color':'#ffffff'},gr);mk('stop',{offset:'1','stop-color':'#50af3c'},gr);
mk('rect',{x:1119,y:408,width:11,height:277,fill:'url(#corgrad)',stroke:'#000','stroke-width':0.5},g);
["1","0.8","0.6","0.4","0.2","0","−0.2","−0.4","−0.6","−0.8","−1"].forEach((s,i)=>{const y=408+i*27.7;L(g,1130,y,1133,y,'#000',0.5);T(g,1136,y+3,s,9);});
}

// ===== I scatter =====
{const g=grp('scatter-i');
const xs=v=>1300+(v-10)*85;const ys=v=>621-(v-6)*48;
let pts=bandX.map((x,i)=>xs(x)+','+ys(bandHi[i]));for(let i=bandX.length-1;i>=0;i--)pts.push(xs(bandX[i])+','+ys(bandLo[i]));
const b=mk('polygon',{points:pts.join(' '),fill:'#f0a0a0','fill-opacity':0.8},g);
const fl=L(g,xs(fitX[0]),ys(fitY[0]),xs(fitX[1]),ys(fitY[1]),'#e02020',2);
sNLRP3.forEach((x,i)=>{const c=mk('circle',{cx:xs(x),cy:ys(sDDX3X[i]),r:3,fill:'#111'},g);});
L(g,1288,400,1288,640,'#000',1);L(g,1288,640,1540,640,'#000',1);
[10,11,12].forEach(v=>{L(g,xs(v),640,xs(v),644,'#000',1);T(g,xs(v),655,String(v),10,'middle');});
[6,7,8,9,10].forEach(v=>{L(g,1284,ys(v),1288,ys(v),'#000',1);T(g,1281,ys(v)+3.5,String(v),10,'end');});
T(g,1423,690,"NLRP3",14,'middle');T(g,1267,520,"DDX3X",14,'middle',{transform:'rotate(-90 1267 520)'});
T(g,1307,429,"R = 0.951, p < 2.2e-16",14);
}

// ===== J dot plot =====
{const g=grp('dot-plot-j');
const xg=[935,996,1057];const yv=v=>989-v*23.75;
const data=[jAG,jIG,jHC];const colr=['#e84848','#33ad3a','#8c8c8c'];
data.forEach((arr,k)=>{arr.forEach((v,i)=>{const x=xg[k]+(((i*7)%11)-5)*3.5;const y=yv(v);let e;
if(k===0)e=mk('circle',{cx:x,cy:y,r:3.6,fill:colr[k]},g);else if(k===1)e=mk('rect',{x:x-3.5,y:y-3.5,width:7,height:7,fill:colr[k]},g);else e=mk('polygon',{points:`${x},${y-4.5} ${x-4},${y+3} ${x+4},${y+3}`,fill:colr[k]},g);
});
const m=arr.reduce((a,b)=>a+b,0)/arr.length;const sd=Math.sqrt(arr.reduce((a,b)=>a+(b-m)*(b-m),0)/(arr.length-1));
L(g,xg[k]-20,yv(m),xg[k]+20,yv(m),colr[k],1.8);L(g,xg[k],yv(m-sd),xg[k],yv(m+sd),colr[k],1.5);L(g,xg[k]-10,yv(m+sd),xg[k]+10,yv(m+sd),colr[k],1.5);L(g,xg[k]-10,yv(m-sd),xg[k]+10,yv(m-sd),colr[k],1.5);
L(g,xg[k],989,xg[k],995,'#000',1.4);
T(g,xg[k],1013,jGroups[k],14,'middle');});
L(g,895,798,895,990,'#000',1.5);L(g,895,990,1098,990,'#000',1.5);
[0,2,4,6,8].forEach(v=>{L(g,889,yv(v),895,yv(v),'#000',1.5);T(g,886,yv(v)+5,String(v),15,'end');});
T(g,868,895,"Relative DDX3X mRNA",15,'middle',{transform:'rotate(-90 868 895)'});
L(g,932,792,1063,792,'#000',1.3);T(g,996,793,"***",17,'middle');
L(g,932,805,993,805,'#000',1.3);T(g,963,808,"***",17,'middle');
L(g,1000,805,1066,805,'#000',1.3);T(g,1032,808,"*",17,'middle');
}

// ===== K western + bars =====
{const g=grp('western-blot-k');
mk('rect',{x:1319,y:756,width:178,height:32,fill:'#ededed',stroke:'#555','stroke-width':0.6},g);
mk('rect',{x:1319,y:790,width:178,height:30,fill:'#ededed',stroke:'#555','stroke-width':0.6},g);
const bands=grp('blot-bands',g);
[[1348,771,27,7,0.95],[1411,772,26,6,0.85],[1470,773,20,3.5,0.5],[1348,805,27,7,0.95],[1411,805,27,7,0.95],[1470,805,26,7,0.95]].forEach(b=>{const e=mk('ellipse',{cx:b[0],cy:b[1],rx:b[2],ry:b[3],fill:'#111','fill-opacity':b[4],filter:'url(#bandblur)'},bands);});
T(g,1348,746,"AG",14,'middle');T(g,1411,746,"IG",14,'middle');T(g,1474,746,"HC",14,'middle');T(g,1520,751,"(kDa)",13,'middle');
T(g,1314,777,"DDX3X",14,'end');T(g,1314,811,"GAPDH",14,'end');T(g,1509,777,"73",13);T(g,1509,811,"37",13);
const bg=grp('bar-chart-k',g);
const yv=v=>1050-v*126.7;const xc=[1357,1417,1479];const colr=['#e84040','#2eaa35','#858585'];
kMeans.forEach((m,i)=>{const r=mk('rect',{x:xc[i]-20,y:yv(m),width:40,height:1050-yv(m),fill:colr[i]},bg);
L(bg,xc[i],yv(m),xc[i],yv(m+kErr[i]),colr[i],1.5);L(bg,xc[i]-9,yv(m+kErr[i]),xc[i]+9,yv(m+kErr[i]),colr[i],1.5);
T(bg,xc[i],1074,kGroups[i],14,'middle');});
L(bg,1318,855,1318,1051,'#000',1.2);L(bg,1318,1051,1512,1051,'#000',1.2);
[0,0.5,1.0,1.5].forEach(v=>{L(bg,1313,yv(v),1318,yv(v),'#000',1.2);T(bg,1309,yv(v)+4.5,v.toFixed(1),13,'end');});
T(bg,1257,960,"Relative expression",14,'middle',{transform:'rotate(-90 1257 960)'});
T(bg,1276,960,"level of DDX3X",14,'middle',{transform:'rotate(-90 1276 960)'});
L(bg,1350,852,1487,852,'#000',1);T(bg,1418,851,"***",16,'middle');
L(bg,1350,867,1415,867,'#000',1);T(bg,1383,868,"**",16,'middle');
L(bg,1420,867,1487,867,'#000',1);T(bg,1453,866,"ns",15,'middle');
}
</script>
</body></html>
